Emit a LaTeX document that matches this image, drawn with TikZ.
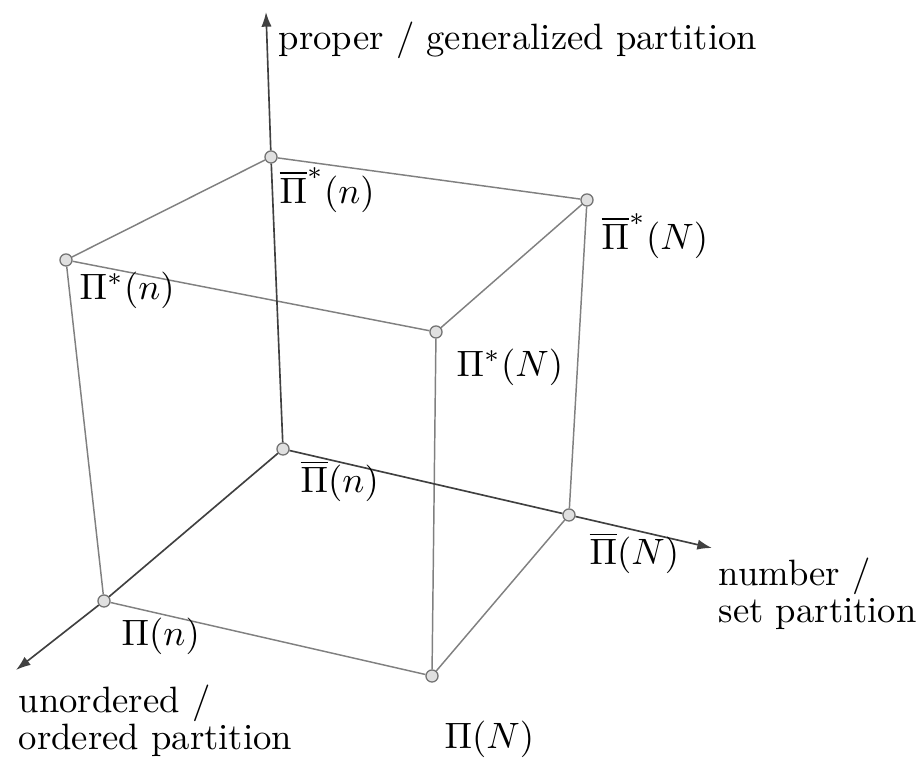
\documentclass[tikz,border=0pt]{standalone}
\usetikzlibrary{arrows.meta}
\tikzset{
  vtx/.style={circle,draw=black!55,fill=black!12,line width=0.35pt,inner sep=0pt,minimum size=3.3pt},
  cubeedge/.style={draw=black!50,line width=0.4pt},
  axis/.style={draw=black!75,line width=0.45pt,-{Latex[length=4pt,width=2.8pt]}},
  lbl/.style={anchor=west,inner sep=0pt}
}
\begin{document}
\begin{tikzpicture}[x=0.2727pt,y=-0.2727pt]
\useasboundingbox (0,0) rectangle (918,760);
\coordinate (zend) at (266,12);
\coordinate (xend) at (712,548);
\coordinate (yend) at (16,670);
% cube corners
\node[vtx] (Pbsn) at (271,157) {};
\node[vtx] (PbsN) at (587,200) {};
\node[vtx] (Psn) at (66,260) {};
\node[vtx] (PsN) at (436,332) {};
\node[vtx] (Pbn) at (283,449) {};
\node[vtx] (PbN) at (569,515) {};
\node[vtx] (Pn) at (104,601) {};
\node[vtx] (PN) at (432,676) {};
% edges
\draw[cubeedge] (Pbsn) -- (PbsN) -- (PsN) -- (Psn) -- (Pbsn);
\draw[cubeedge] (Psn) -- (Pn) -- (PN) -- (PbN) -- (PbsN);
\draw[cubeedge] (PsN) -- (PN);
% axes
\draw[axis] (Pbn) -- (Pbsn) -- (zend);
\draw[axis] (Pbn) -- (PbN) -- (xend);
\draw[axis] (Pbn) -- (Pn) -- (yend);
\node[lbl] (zlab) at (278,40) {proper / generalized partition};
\node[lbl,align=left] (xlab) at (718,594) {number /\\[-2pt]set partition};
\node[lbl,align=left] (ylab) at (18,721) {unordered /\\[-2pt]ordered partition};
% labels
\node[lbl] (lPbsn) at (279,190) {$\overline{\Pi}^*(n)$};
\node[lbl] (lPbsN) at (601,236) {$\overline{\Pi}^*(N)$};
\node[lbl] (lPsn) at (79,290) {$\Pi^*(n)$};
\node[lbl] (lPsN) at (456,367) {$\Pi^*(N)$};
\node[lbl] (lPbn) at (300,481) {$\overline{\Pi}(n)$};
\node[lbl] (lPbN) at (589,553) {$\overline{\Pi}(N)$};
\node[lbl] (lPn) at (121,636) {$\Pi(n)$};
\node[lbl] (lPN) at (444,739) {$\Pi(N)$};
\end{tikzpicture}
\end{document}
